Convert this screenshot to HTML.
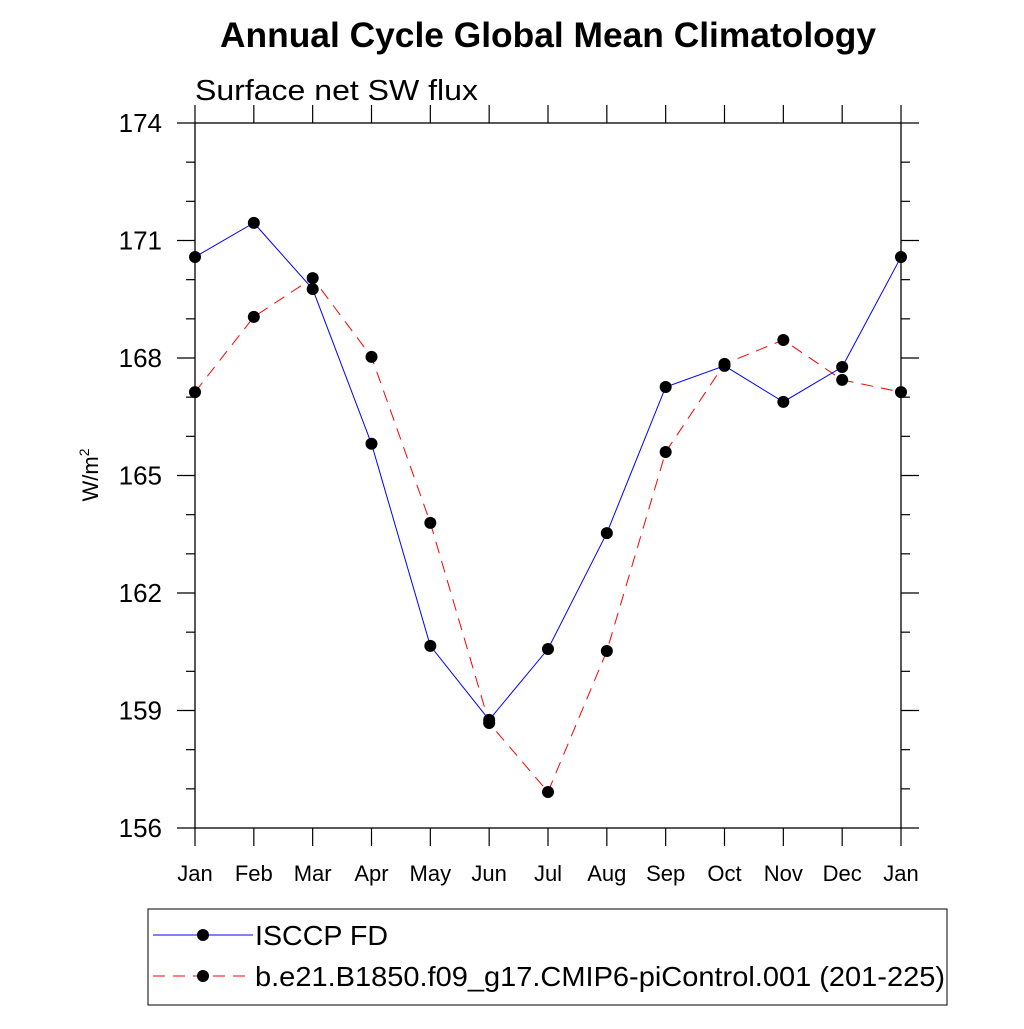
<!DOCTYPE html>
<html><head><meta charset="utf-8"><style>body{margin:0;background:#fff}svg text{font-family:"Liberation Sans",sans-serif}</style></head>
<body>
<svg id="c" width="1024" height="1024" xmlns="http://www.w3.org/2000/svg">
<text x="548" y="47" font-size="35" font-weight="bold" text-anchor="middle" textLength="656" lengthAdjust="spacingAndGlyphs">Annual Cycle Global Mean Climatology</text>
<text x="195" y="100" font-size="29" textLength="283" lengthAdjust="spacingAndGlyphs">Surface net SW flux</text>
<text transform="translate(98,475) rotate(-90)" font-size="22" text-anchor="middle">W/m<tspan font-size="14" dy="-9">2</tspan></text>
<g id="axes"></g><g id="series"></g>
<rect x="148" y="909" width="799" height="96" fill="none" stroke="#000" stroke-width="1"/>
<g>
<line x1="153" y1="935" x2="253" y2="935" stroke="#00f" stroke-width="1"/><circle cx="203" cy="935" r="6"/>
<text x="255" y="945" font-size="28" textLength="133" lengthAdjust="spacingAndGlyphs">ISCCP FD</text></g>
<g>
<line x1="153" y1="976" x2="253" y2="976" stroke="#f00" stroke-width="1" stroke-dasharray="12,8"/><circle cx="203" cy="976" r="6"/>
<text x="255" y="986" font-size="28" textLength="690" lengthAdjust="spacingAndGlyphs">b.e21.B1850.f09_g17.CMIP6-piControl.001 (201-225)</text></g>
</svg>
<script>
const months=["Jan","Feb","Mar","Apr","May","Jun","Jul","Aug","Sep","Oct","Nov","Dec","Jan"];
const yTicks=[156,159,162,165,168,171,174];
const isccp=[170.58,171.45,169.76,165.81,160.65,158.76,160.57,163.53,167.26,167.80,166.88,167.77,170.58];
const model=[167.13,169.05,170.04,168.03,163.79,158.68,156.92,160.52,165.60,167.85,168.46,167.44,167.13];
const X0=195,X1=901,Y0=828,Y1=123,ymin=156,ymax=174;
const xs=i=>X0+i*(X1-X0)/12, ys=v=>Y0-(v-ymin)/(ymax-ymin)*(Y0-Y1);
const NS="http://www.w3.org/2000/svg";
function mk(p,t,a){const e=document.createElementNS(NS,t);for(const k in a)e.setAttribute(k,a[k]);p.appendChild(e);return e;}
const ax=document.getElementById('axes');
const fr=mk(ax,'rect',{x:X0,y:Y1,width:X1-X0,height:Y0-Y1,fill:'none',stroke:'#000','stroke-width':1.3});


for(let v=ymin;v<=ymax;v++){const maj=yTicks.includes(v),L=maj?18:9,y=ys(v);
mk(ax,'line',{x1:X0-L,y1:y,x2:X0,y2:y,stroke:'#000','stroke-width':1.2});
mk(ax,'line',{x1:X1,y1:y,x2:X1+L,y2:y,stroke:'#000','stroke-width':1.2});}
yTicks.forEach(v=>{const t=mk(ax,'text',{x:X0-33,y:ys(v)+9,'font-size':26,'text-anchor':'end'});t.textContent=v;

});
months.forEach((m,i)=>{const x=xs(i);
mk(ax,'line',{x1:x,y1:Y0,x2:x,y2:Y0+18,stroke:'#000','stroke-width':1.2});
mk(ax,'line',{x1:x,y1:Y1-18,x2:x,y2:Y1,stroke:'#000','stroke-width':1.2});
const t=mk(ax,'text',{x:x,y:881,'font-size':22,'text-anchor':'middle'});t.textContent=m;

});
const sg=document.getElementById('series');
function draw(d,col,dash,name){const g=mk(sg,'g',{});


mk(g,'polyline',{points:d.map((v,i)=>xs(i)+','+ys(v)).join(' '),fill:'none',stroke:col,'stroke-width':1,'stroke-dasharray':dash});
d.forEach((v,i)=>{const c=mk(g,'circle',{cx:xs(i),cy:ys(v),r:6,fill:'#000'});

});}
draw(model,'#f00','12,8','model-series');
draw(isccp,'#00f','none','isccp-series');
</script>
</body></html>
